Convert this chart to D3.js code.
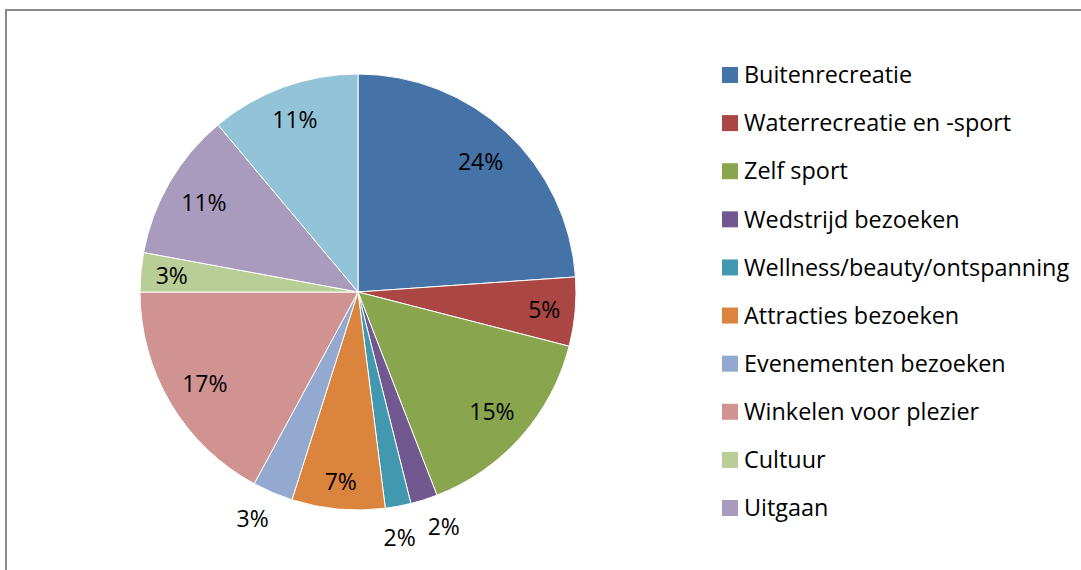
<!DOCTYPE html>
<html>
<head>
<meta charset="utf-8">
<script src="https://cdn.jsdelivr.net/npm/d3@7"></script>
<style>
  body { margin: 0; background: #fff; }
  svg { display: block; font-family: "Open Sans", Lato, sans-serif; }
</style>
</head>
<body>
<svg id="chart" width="1081" height="570"></svg>
<script>
// categories (legend shows the first ten, last slice has no visible entry)
let categories = ["Buitenrecreatie", "Waterrecreatie en -sport", "Zelf sport", "Wedstrijd bezoeken",
  "Wellness/beauty/ontspanning", "Attracties bezoeken", "Evenementen bezoeken",
  "Winkelen voor plezier", "Cultuur", "Uitgaan", "Overig"];
let shares = [23.9, 5.1, 15.1, 2.0, 1.9, 6.9, 3.0, 17.1, 2.9, 11.0, 11.1];
let labels = ["24%", "5%", "15%", "2%", "2%", "7%", "3%", "17%", "3%", "11%", "11%"];
let outside = [false, false, false, true, true, false, true, false, false, false, false];
// small angle nudges (degrees) so the outside labels don't collide
let labelNudge = [0, 0, 0, -2.5, 1, 0, 2, 0, 0, 0, 0];
let colors = ["#4572A7", "#AA4643", "#89A54E", "#71588F", "#4198AF", "#DB843D",
  "#93A9CF", "#D19392", "#B9CD96", "#A99BBD", "#92C3D6"];
let legendCount = 10;

let svg = d3.select("#chart");
let cx = 358, cy = 292, radius = 218;

// chart area frame (runs off the right and bottom)
svg.append("rect")
  .attr("x", 6).attr("y", 10)
  .attr("width", 1200).attr("height", 700)
  .attr("fill", "#fff")
  .attr("stroke", "#8c8c8c")
  .attr("stroke-width", 2);

let data = categories.map((c, i) => ({name: c, value: shares[i], label: labels[i], out: outside[i],
  nudge: labelNudge[i], color: colors[i]}));

let pie = d3.pie().sort(null).value(d => d.value);
let arc = d3.arc().innerRadius(0).outerRadius(radius);
let arcs = pie(data);

let g = svg.append("g").attr("transform", "translate(" + cx + "," + cy + ")");

g.selectAll("path")
  .data(arcs)
  .enter().append("path")
  .attr("d", arc)
  .attr("fill", d => d.data.color)
  .attr("stroke", "#fff")
  .attr("stroke-width", 1);

// data labels: inside ones pushed toward the rim, small ones outside
let fontSize = 23;
g.selectAll("text.lbl")
  .data(arcs)
  .enter().append("text")
  .attr("class", "lbl")
  .attr("font-size", fontSize)
  .attr("fill", "#000")
  .attr("text-anchor", "middle")
  .attr("dominant-baseline", "central")
  .attr("transform", d => {
    let a = (d.startAngle + d.endAngle) / 2 + d.data.nudge * Math.PI / 180;
    let w = d.data.label.length * 14;
    let r;
    if (d.data.out) {
      r = 249;
    } else {
      let ext = (w / 2) * Math.abs(Math.sin(a)) + 11 * Math.abs(Math.cos(a));
      r = radius - ext - 16;
    }
    return "translate(" + (r * Math.sin(a)) + "," + (-r * Math.cos(a)) + ")";
  })
  .text(d => d.data.label);

// legend
let legendY = d3.scalePoint()
  .domain(categories.slice(0, legendCount))
  .range([75, 508]);

let legend = svg.append("g");
let items = legend.selectAll("g")
  .data(data.slice(0, legendCount))
  .enter().append("g")
  .attr("transform", d => "translate(722," + legendY(d.name) + ")");

items.append("rect")
  .attr("x", 0).attr("y", -8)
  .attr("width", 16).attr("height", 16)
  .attr("fill", d => d.color);

items.append("text")
  .attr("x", 22)
  .attr("dy", "0.35em")
  .attr("font-size", 23.4)
  .attr("fill", "#000")
  .text(d => d.name);
</script>
</body>
</html>
